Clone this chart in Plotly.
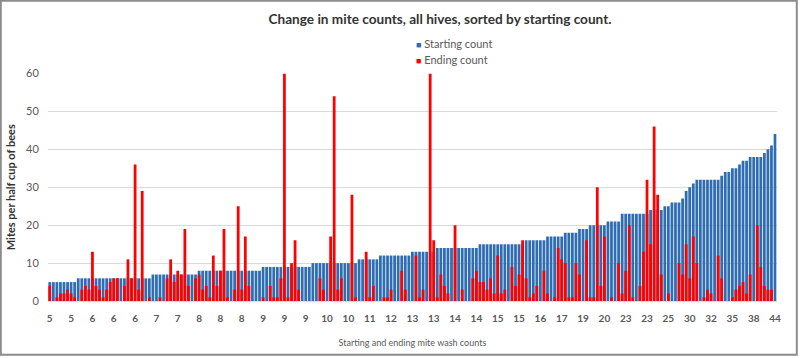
import plotly.graph_objects as go

# ---- data ----
start_runs = [  # (value, count) sorted starting counts
    (5, 8), (6, 21), (7, 13), (8, 18), (9, 14), (10, 13), (11, 6), (12, 9),
    (13, 7), (14, 12), (15, 13), (16, 6), (17, 5), (18, 4), (19, 3), (20, 5),
    (21, 4), (23, 8), (24, 4), (25, 2), (26, 3), (27, 1), (29, 1), (30, 1),
    (31, 1), (32, 7), (33, 1), (34, 2), (35, 2), (36, 1), (37, 2), (38, 4),
    (39, 1), (40, 1), (41, 1), (44, 1),
]
starting = []
for v, n in start_runs:
    starting += [v] * n

ending = [
    4, 0, 1, 2, 2, 3, 2, 1, 0, 3, 4, 3, 13, 4, 3, 1, 3, 5, 6, 6,
    0, 4, 11, 6, 36, 3, 29, 0, 1, 0, 0, 1, 0, 6, 11, 5, 8, 7, 19, 4,
    0, 6, 7, 3, 4, 1, 12, 4, 8, 19, 1, 0, 3, 25, 3, 17, 4, 0, 0, 0,
    1, 0, 4, 1, 1, 6, 60, 1, 10, 16, 3, 0, 0, 0, 0, 0, 6, 3, 0, 17,
    54, 3, 6, 0, 0, 28, 1, 0, 0, 13, 1, 4, 0, 0, 1, 1, 3, 0, 0, 8,
    3, 0, 0, 12, 1, 3, 0, 60, 16, 1, 7, 4, 2, 0, 20, 0, 3, 0, 0, 6,
    8, 5, 5, 3, 6, 2, 12, 2, 3, 0, 9, 4, 7, 16, 6, 1, 2, 4, 0, 8,
    2, 0, 1, 14, 11, 10, 1, 1, 10, 7, 0, 16, 1, 1, 30, 4, 17, 0, 1, 0,
    10, 2, 8, 20, 1, 0, 4, 13, 32, 15, 46, 28, 7, 0, 2, 0, 0, 10, 7, 15,
    6, 17, 10, 0, 1, 3, 2, 0, 12, 6, 0, 0, 1, 3, 4, 5, 2, 7, 0, 20,
    9, 4, 3, 3, 0,
]

tick_labels = ["5", "5", "6", "6", "6", "7", "7", "8", "8", "8", "9", "9", "9",
               "10", "10", "11", "12", "13", "13", "14", "14", "15", "15", "16",
               "17", "19", "20", "23", "23", "25", "30", "32", "35", "38", "44"]
tick_step = 6

series_names = ["Starting count", "Ending count"]
series_colors = ["#2E6DB4", "#FF0000"]

x_idx = list(range(len(starting)))

TXT = "#595959"
FONT = "Lato, 'Open Sans', sans-serif"

fig = go.Figure()
fig.add_trace(go.Bar(x=x_idx, y=starting, name=series_names[0],
                     marker=dict(color=series_colors[0], line=dict(width=0)), width=0.78))
fig.add_trace(go.Bar(x=x_idx, y=ending, name=series_names[1],
                     marker=dict(color=series_colors[1], line=dict(width=0)), width=0.78))

legend_ann = []
for k, (nm, col) in enumerate(zip(series_names, series_colors)):
    legend_ann.append(dict(
        xref="paper", yref="paper", x=0.517, y=1 - (44 + 15 * k) / 358,
        xanchor="left", yanchor="middle", showarrow=False,
        text=f"<span style='color:{col};font-size:9px'>■</span> {nm}",
        font=dict(size=11, color=TXT, family=FONT)))

fig.update_layout(
    width=800, height=358,
    margin=dict(l=0, r=0, t=0, b=0),
    paper_bgcolor="white", plot_bgcolor="white",
    barmode="overlay", showlegend=False,
    font=dict(family=FONT, color=TXT, size=11),
    title=dict(text="<b>Change in mite counts, all hives, sorted by starting count.</b>",
               x=0.55, xanchor="center", y=0.947, yanchor="middle",
               font=dict(size=13.6, color="#333333")),
    annotations=legend_ann,
    xaxis=dict(domain=[0.06, 0.971], range=[-0.5, len(starting) - 0.5],
               tickmode="array",
               tickvals=[i * tick_step for i in range(len(tick_labels))],
               ticktext=[f"<b>{t}</b>" for t in tick_labels],
               tickfont=dict(size=10, color=TXT),
               ticks="outside", ticklen=8, tickcolor="rgba(0,0,0,0)",
               showline=True, linecolor="#d9d9d9", showgrid=False, automargin=False,
               title=dict(text="Starting and ending mite wash counts",
                          font=dict(size=9, color=TXT), standoff=16)),
    yaxis=dict(domain=[0.159, 0.795], range=[0, 60], dtick=10,
               gridcolor="#d9d9d9", gridwidth=1, zeroline=False, automargin=False,
               tickfont=dict(size=11, color=TXT),
               ticks="outside", ticklen=6, tickcolor="rgba(0,0,0,0)",
               title=dict(text="<b>Mites per half cup of bees</b>",
                          font=dict(size=11, color="#333333"), standoff=8)),
    shapes=[dict(type="rect", xref="paper", yref="paper", x0=0.001, x1=0.996,
                 y0=0.009, y1=0.998, line=dict(color="#8c8c8c", width=2),
                 fillcolor="rgba(0,0,0,0)", layer="above")],
)

fig.write_html("out.html", config={"displayModeBar": False},
               post_script="document.body.style.margin='0';document.body.style.padding='0';")
